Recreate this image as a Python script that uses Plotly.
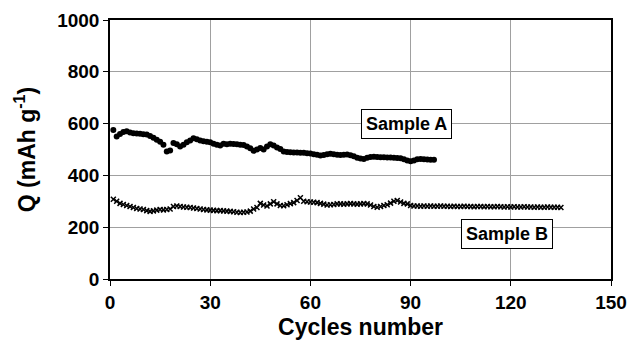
import plotly.graph_objects as go

cycles_a = list(range(1, 98))
q_a = [575, 550, 560, 568, 570, 566, 563, 562, 561, 559, 558, 552, 545, 538, 530, 518, 492, 496, 525, 520,
       512, 518, 528, 535, 543, 540, 535, 532, 530, 528, 522, 518, 515, 522, 520, 522, 521, 520, 518, 517,
       512, 505, 495, 500, 506, 500, 512, 520, 515, 508, 502, 492, 490, 489, 488, 488, 487, 487, 486, 485,
       482, 480, 477, 479, 482, 484, 482, 480, 479, 480, 481, 478, 474, 468, 465, 463, 468, 471, 472, 471,
       470, 470, 469, 469, 468, 467, 466, 462, 458, 455, 458, 462, 463, 462, 461, 460, 460]

cycles_b = list(range(1, 136))
q_b = [308, 300, 292, 288, 284, 280, 276, 272, 270, 268, 264, 261, 263, 266, 268, 267, 268, 270, 280, 282,
       280, 278, 277, 276, 274, 272, 270, 268, 267, 266, 265, 264, 264, 263, 262, 261, 260, 258, 257, 258,
       259, 262, 270, 276, 292, 286, 282, 290, 298, 290, 284, 283, 287, 291, 295, 303, 314, 300, 298, 297,
       296, 295, 292, 289, 286, 287, 288, 290, 290, 289, 290, 291, 290, 289, 290, 291, 290, 286, 280, 277,
       280, 284, 287, 293, 300, 303, 297, 292, 290, 284, 282, 282, 281, 282, 281, 282, 281, 281, 282, 281,
       281, 280, 281, 280, 280, 281, 280, 280, 279, 280, 280, 279, 280, 279, 279, 280, 279, 278, 279, 278,
       279, 278, 278, 279, 278, 278, 277, 278, 277, 277, 278, 277, 277, 277, 276]

x_ticks = [0, 30, 60, 90, 120, 150]
y_ticks = [0, 200, 400, 600, 800, 1000]

FONT = "Liberation Sans, Arial, sans-serif"

fig = go.Figure()
fig.add_trace(go.Scatter(x=cycles_a, y=q_a, mode="markers", name="Sample A",
                         marker=dict(symbol="circle", size=6, color="black")))
fig.add_trace(go.Scatter(x=cycles_b, y=q_b, mode="markers", name="Sample B",
                         marker=dict(symbol="x-thin", size=5, color="black",
                                     line=dict(width=1.5, color="black"))))

fig.add_annotation(x=88.8, y=598, text="<b>Sample A</b>", showarrow=False,
                   font=dict(family=FONT, size=18, color="black"),
                   bordercolor="black", borderwidth=1, borderpad=4, bgcolor="white")
fig.add_annotation(x=119, y=172, text="<b>Sample B</b>", showarrow=False,
                   font=dict(family=FONT, size=18, color="black"),
                   bordercolor="black", borderwidth=1, borderpad=4, bgcolor="white")

fig.update_layout(
    width=629, height=340,
    margin=dict(l=110, r=18, t=20, b=61),
    paper_bgcolor="white", plot_bgcolor="white",
    showlegend=False,
    font=dict(family=FONT, color="black"),
)
fig.update_xaxes(
    range=[0, 150], tickvals=x_ticks, ticktext=[f"<b>{v}</b>" for v in x_ticks],
    ticks="outside", ticklen=5, tickcolor="black", automargin=False,
    tickfont=dict(family=FONT, size=19, color="black"),
    showgrid=True, gridcolor="#a0a0a0", gridwidth=1,
    showline=True, linecolor="black", linewidth=1.5, mirror=True, zeroline=False,
    title=dict(text="<b>Cycles number</b>", font=dict(family=FONT, size=23, color="black")),
)
fig.update_yaxes(
    range=[0, 1000], tickvals=y_ticks, ticktext=[f"<b>{v}</b>" for v in y_ticks],
    ticks="outside", ticklen=5, tickcolor="black", automargin=False,
    tickfont=dict(family=FONT, size=19, color="black"),
    showgrid=True, gridcolor="#a0a0a0", gridwidth=1,
    showline=True, linecolor="black", linewidth=1.5, mirror=True, zeroline=False,
    title=dict(text="<b>Q (mAh g<sup>-1</sup>)</b>", font=dict(family=FONT, size=23, color="black")),
)

fig.write_html("out.html")
